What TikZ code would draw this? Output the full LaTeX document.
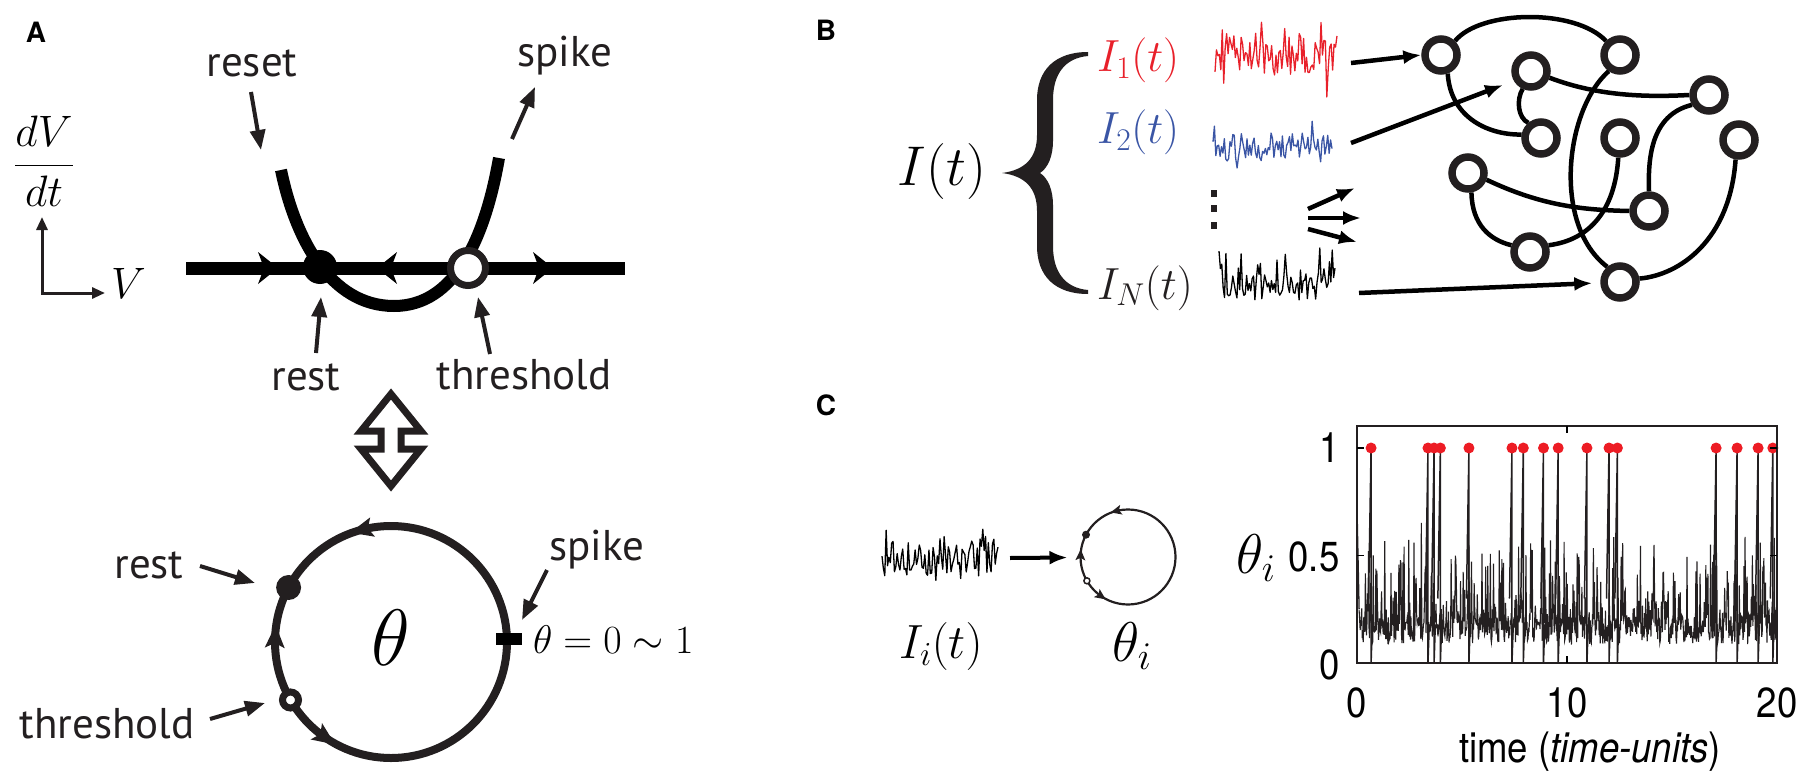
\documentclass[tikz,border=0pt]{standalone}
\usepackage{fix-cm}
\usepackage{fontspec}
\newfontfamily\labf{PT Sans}
\newfontfamily\helf{TeX Gyre Heros}
\usetikzlibrary{arrows.meta,backgrounds}
\definecolor{ink}{HTML}{231F20}
\definecolor{sigred}{HTML}{E8202A}
\definecolor{sigblue}{HTML}{3A55A5}
\definecolor{dotred}{HTML}{ED1C24}
\tikzset{
  lbl/.style={font=\fontsize{43}{50}\selectfont\labf, text=ink},
  panel/.style={font=\fontsize{28}{32}\selectfont\helf\bfseries},
  ptr/.style={line width=4pt, ink, -{Triangle[length=20pt,width=15pt]}},
  barr/.style={line width=4.5pt, black, -{Latex[length=18pt,width=14pt]}},
  nn/.style={circle, draw=ink, line width=7.5pt, fill=white, minimum size=32pt, outer sep=3.75pt},
  netedge/.style={line width=4.5pt, black},
  ticklbl/.style={font=\fontsize{42}{48}\selectfont\helf},
  bigah/.style={ink},
}
\begin{document}
\begin{tikzpicture}[x=1pt,y=-1pt, every node/.style={inner sep=0pt, outer sep=0pt}]
\pgfmathsetseed{12}
\useasboundingbox (0,0) rectangle (1807,781);

% panel letters
\node[panel] (pA) at (36,32) {A};
\node[panel] (pB) at (826,30) {B};
\node[panel] (pC) at (826,405) {C};

% ================= Panel A top =================
\node[font=\fontsize{44}{50}\selectfont] (dvdt) at (44,161) {$\displaystyle\frac{dV}{dt}$};
\coordinate (axT) at (42,217);
\coordinate (axO) at (42,293);
\coordinate (axR) at (105,293);
\draw[line width=3pt, ink, line join=miter, {Triangle[length=13pt,width=11pt]}-{Triangle[length=13pt,width=11pt]}] (axT) -- (axO) -- (axR);
\node[anchor=base west, font=\fontsize{44}{50}\selectfont] (Vlab) at (111,298) {$V$};

\coordinate (hl) at (186,268);
\coordinate (hr) at (625,268);
\draw[line width=13pt, black] (hl) -- (hr);
\fill (278,268) -- (258,252) -- (264,268) -- (258,284) -- cycle;
\fill (377,268) -- (397,252) -- (391,268) -- (397,284) -- cycle;
\fill (553,268) -- (533,252) -- (539,268) -- (533,284) -- cycle;

\draw[line width=12pt, black] (281,170) .. controls (295,238) and (330,306) .. (394,306)
  .. controls (455,306) and (485,238) .. (499,158);

\node[circle, fill=black, minimum size=34pt] (rest) at (320,267) {};
\node[circle, draw=ink, fill=white, line width=7pt, minimum size=35pt] (thr) at (468,268) {};

\node[lbl, anchor=base] (reset) at (252,77) {reset};
\node[lbl, anchor=base] (spike) at (565,67) {spike};
\node[lbl, anchor=base] (restl) at (306,390) {rest};
\node[lbl, anchor=base] (thrl) at (524,389) {threshold};

\coordinate (r1) at (251,92);  \coordinate (r2) at (261,150);
\coordinate (s1) at (512,139); \coordinate (s2) at (535,87);
\coordinate (q1) at (316,353); \coordinate (q2) at (321,297);
\coordinate (t1) at (490,354); \coordinate (t2) at (478,297);
\draw[ptr] (r1) -- (r2);
\draw[ptr] (s1) -- (s2);
\draw[ptr] (q1) -- (q2);
\draw[ptr] (t1) -- (t2);

% double arrow
\draw[line width=7pt, ink, fill=white, line join=miter] (391,394) -- (421,431) -- (401,431) -- (401,449) -- (421,449)
  -- (391,486) -- (361,449) -- (381,449) -- (381,431) -- (361,431) -- cycle;

% ================= Panel A bottom =================
\node[circle, draw=ink, line width=8pt, minimum size=232pt] (phi) at (391,642) {};
\node[font=\fontsize{80}{90}\selectfont] (th) at (391,638) {$\theta$};
\begin{scope}[shift={(391,642)}, x=1pt, y=1pt]
  \fill[bigah, shift={(104:116)}, rotate=194] (13,0) -- (-10,10) -- (-5,0) -- (-10,-10) -- cycle;
  \fill[bigah, shift={(178:116)}, rotate=88] (13,0) -- (-10,10) -- (-5,0) -- (-10,-10) -- cycle;
  \fill[bigah, shift={(235:116)}, rotate=325] (13,0) -- (-10,10) -- (-5,0) -- (-10,-10) -- cycle;
\end{scope}
\node[circle, fill=ink, minimum size=25pt] (crest) at (288.6,587.5) {};
\node[circle, draw=ink, fill=white, line width=7pt, minimum size=16pt] (cthr) at (290.5,700) {};
\node[fill=black, minimum width=26pt, minimum height=12pt] (cspk) at (509,639) {};

\node[lbl, anchor=base] (restl2) at (149,578) {rest};
\node[lbl, anchor=base] (thrl2) at (107,738) {threshold};
\node[lbl, anchor=base] (spk2) at (597,560) {spike};
\node[anchor=base west, font=\fontsize{40}{46}\selectfont] (th01) at (533,653) {$\theta=0\sim1$};

\coordinate (u1) at (200,566); \coordinate (u2) at (255,583);
\coordinate (v1) at (210,719); \coordinate (v2) at (265,703);
\coordinate (w1) at (547,570); \coordinate (w2) at (522,620);
\draw[ptr] (u1) -- (u2);
\draw[ptr] (v1) -- (v2);
\draw[ptr] (w1) -- (w2);

% ================= Panel B =================
\node[anchor=base, font=\fontsize{56}{62}\selectfont] (It) at (942,185) {$I(t)$};
\fill[ink] (1088,52) .. controls (1055,52) and (1037,70) .. (1037,100) -- (1037,135)
  .. controls (1037,158) and (1025,170) .. (1002,173)
  .. controls (1025,176) and (1037,188) .. (1037,211) -- (1037,246)
  .. controls (1037,276) and (1055,294) .. (1088,294) -- (1088,290)
  .. controls (1065,288) and (1053,272) .. (1053,246) -- (1053,205)
  .. controls (1053,190) and (1048,178) .. (1040,173)
  .. controls (1048,168) and (1053,156) .. (1053,141) -- (1053,100)
  .. controls (1053,74) and (1065,58) .. (1088,56) -- cycle;

\node[anchor=base west, font=\fontsize{45}{50}\selectfont, text=sigred] (I1) at (1097,72) {$I_1(t)$};
\node[anchor=base west, font=\fontsize{45}{50}\selectfont, text=sigblue] (I2) at (1097,144) {$I_2(t)$};
\node[anchor=base west, font=\fontsize{45}{50}\selectfont, text=ink] (IN) at (1097,299) {$I_N(t)$};
\fill[ink] (1211,190) rectangle (1217,197);
\fill[ink] (1211,205) rectangle (1217,212);
\fill[ink] (1211,222) rectangle (1217,229);

\draw[sigred, line width=1.3pt, line join=round] plot[domain=0:1, samples=85, variable=\t] ({1215+122*\t}, {55+17*rand+28*rand*pow(rnd,2)});
\draw[sigblue, line width=1.3pt, line join=round] plot[domain=0:1, samples=85, variable=\t] ({1213+119*\t}, {148+16*rand+26*rand*pow(rnd,2)});
\draw[black, line width=1.3pt, line join=round] plot[domain=0:1, samples=85, variable=\t] ({1219+116*\t}, {288+12*rand-30*pow(rnd,3)});

% network nodes
\node[nn] (n1) at (1441,55) {};
\node[nn] (n2) at (1531,71) {};
\node[nn] (n3) at (1620,55) {};
\node[nn] (n4) at (1709,95) {};
\node[nn] (n5) at (1541,138) {};
\node[nn] (n6) at (1620,138) {};
\node[nn] (n7) at (1739,140) {};
\node[nn] (n8) at (1468,173) {};
\node[nn] (n9) at (1649,211) {};
\node[nn] (n10) at (1530,252) {};
\node[nn] (n11) at (1620,282) {};
\begin{scope}[on background layer]
\draw[netedge] (n1.45) .. controls (1480,10) and (1575,8) .. (n3.135);
\draw[netedge] (n1.-70) .. controls (1450,115) and (1485,135) .. (n5.170);
\draw[netedge] (n2.-20) .. controls (1600,97) and (1650,97) .. (n4.180);
\draw[netedge] (n2.-115) .. controls (1516,100) and (1518,118) .. (n5.130);
\draw[netedge] (n3.-125) .. controls (1565,110) and (1552,225) .. (n11.130);
\draw[netedge] (n4.-150) .. controls (1650,115) and (1648,160) .. (n9.90);
\draw[netedge] (n6.-95) .. controls (1615,210) and (1590,240) .. (n10.20);
\draw[netedge] (n7.-100) .. controls (1730,240) and (1680,275) .. (n11.10);
\draw[netedge] (n8.-20) .. controls (1540,205) and (1580,210) .. (n9.180);
\draw[netedge] (n8.-80) .. controls (1472,225) and (1490,240) .. (n10.160);
\end{scope}

\coordinate (a1s) at (1351,63);
\coordinate (a2s) at (1351,143); \coordinate (a2e) at (1503,85);
\coordinate (m1s) at (1308,209); \coordinate (m1e) at (1355,188);
\coordinate (m2s) at (1308,218); \coordinate (m2e) at (1361,218);
\coordinate (m3s) at (1308,229); \coordinate (m3e) at (1357,242);
\coordinate (aNs) at (1359,293);
\draw[barr] (a1s) -- (n1.west);
\draw[barr] (a2s) -- (a2e);
\draw[barr] (m1s) -- (m1e);
\draw[barr] (m2s) -- (m2e);
\draw[barr] (m3s) -- (m3e);
\draw[barr, shorten >=8pt] (aNs) -- (n11);

% ================= Panel C =================
\draw[black, line width=1.3pt, line join=round] plot[domain=0:1, samples=85, variable=\t] ({882+116*\t}, {558+18*rand+30*rand*pow(rnd,2)});
\node[anchor=base, font=\fontsize{48}{54}\selectfont] (Ii) at (941,658) {$I_i(t)$};
\node[circle, draw=ink, line width=2.2pt, minimum size=95pt] (sc) at (1128,557) {};
\coordinate (cs) at (1010,558);
\draw[barr, line width=4pt, shorten >=13pt] (cs) -- (sc);
\begin{scope}[shift={(1128,557)}, x=1pt, y=1pt]
  \fill[bigah, shift={(104:47.5)}, rotate=194] (6,0) -- (-5,5) -- (-2.5,0) -- (-5,-5) -- cycle;
  \fill[bigah, shift={(178:47.5)}, rotate=88] (6,0) -- (-5,5) -- (-2.5,0) -- (-5,-5) -- cycle;
  \fill[bigah, shift={(235:47.5)}, rotate=325] (6,0) -- (-5,5) -- (-2.5,0) -- (-5,-5) -- cycle;
\end{scope}
\node[circle, fill=ink, minimum size=8pt] (screst) at (1086,534.7) {};
\node[circle, draw=ink, fill=white, line width=1.5pt, minimum size=6pt] (scthr) at (1086.9,580.8) {};
\node[anchor=base, font=\fontsize{56}{62}\selectfont] (thi) at (1132,661) {$\theta_i$};

% plot
\node[anchor=base, font=\fontsize{56}{62}\selectfont] (thy) at (1256,573) {$\theta_i$};
\begin{scope}
\clip (1357,426) rectangle (1777,663);
\draw[ink, line width=1.1pt] plot[domain=0.1:20, samples=800, variable=\t] ({1357+21*\t}, {663-215*(0.15+0.065*rand+0.45*pow(rnd,6))});
\draw[ink, line width=1.3pt] (1357,{663-215*0.72}) -- ({1357+21*0.1},{663-215*0.25});
\foreach \s in {0.67,3.38,3.67,3.97,5.33,7.38,7.92,8.88,9.58,10.95,12.0,12.4,17.1,18.1,19.1,19.8}{
  \draw[ink, line width=1.5pt] ({1357+21*(\s-0.12)},{663-215*0.3}) -- ({1357+21*\s},448) -- ({1357+21*\s},663) -- ({1357+21*(\s+0.06)},{663-215*0.18});
}
\end{scope}
\foreach \s in {0.67,3.38,3.67,3.97,5.33,7.38,7.92,8.88,9.58,10.95,12.0,12.4,17.1,18.1,19.1,19.8}{
  \fill[dotred] ({1357+21*\s},448) circle (5.5pt);
}
\node[draw=ink, line width=1.8pt, minimum width=420pt, minimum height=237pt, anchor=north west] (frame) at (1357,426) {};
\draw[line width=1.5pt] (1357,448) -- (1364,448) (1357,555.5) -- (1364,555.5)
  (1777,448) -- (1770,448) (1777,555.5) -- (1770,555.5)
  (1567,663) -- (1567,656) (1567,426) -- (1567,433);
\node[ticklbl] (y1) at (1330,448) {\scalebox{0.87}[1]{1}};
\node[ticklbl] (y05) at (1314,557) {\scalebox{0.87}[1]{0.5}};
\node[ticklbl] (y0) at (1330,665) {\scalebox{0.87}[1]{0}};
\node[ticklbl] (x0) at (1357,703) {\scalebox{0.87}[1]{0}};
\node[ticklbl] (x10) at (1567,703) {\scalebox{0.87}[1]{10}};
\node[ticklbl] (x20) at (1777,703) {\scalebox{0.87}[1]{20}};
\node[ticklbl, anchor=base] (xl) at (1590,762) {\scalebox{0.87}[1]{time (\textit{time-units})}};
\end{tikzpicture}
\end{document}
